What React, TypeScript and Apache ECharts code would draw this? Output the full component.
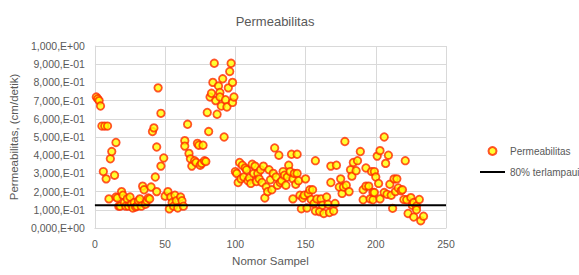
import React, { useEffect, useRef } from "react";
import * as echarts from "echarts";

const sampleNo: number[] = [
  1, 2, 3, 4, 5, 7, 9, 6, 8, 10, 11, 12, 14, 15, 15, 16, 17, 19, 18, 20, 21, 22, 23, 25, 24, 26, 27, 28, 29, 30, 31, 32, 33, 34, 35, 36, 37, 38, 39, 40, 41, 42, 43, 44, 44, 45, 47, 47, 49, 50,
  52, 53, 54, 55, 56, 57, 58, 59, 61, 62, 63, 64, 64, 66, 67, 68, 69, 71, 72, 73, 74, 75, 76, 77, 78, 79, 80, 81, 82, 83, 84, 85, 86, 87, 88, 89, 89, 90, 91, 92, 93, 94, 95, 96, 97, 98, 98, 99,
  100, 101, 102, 103, 104, 105, 106, 107, 108, 109, 110, 111, 112, 113, 114, 115, 116, 117, 118, 119, 120, 121, 122, 123, 124, 125, 126, 127, 128, 129, 130, 131, 132, 133, 134, 135, 136, 137, 138, 139, 140, 141, 141, 142, 143, 144, 144, 145, 146, 147, 148,
  149, 150, 151, 152, 153, 154, 155, 156, 157, 157, 158, 160, 161, 162, 163, 165, 166, 167, 168, 168, 170, 171, 172, 174, 175, 176, 177, 178, 179, 181, 182, 183, 184, 186, 187, 189, 191, 191, 193, 193, 195, 196, 197, 198, 198, 199, 199, 200, 201,
  202, 203, 203, 206, 206, 207, 208, 209, 210, 211, 212, 213, 214, 215, 216, 218, 219, 220, 221, 222, 223, 225, 226, 227, 227, 229, 229, 231, 232, 234,
];

const permeability: number[] = [
  0.72, 0.71, 0.7, 0.67, 0.56, 0.56, 0.56, 0.31, 0.27, 0.16, 0.38, 0.42, 0.29, 0.47, 0.17, 0.165, 0.12, 0.2, 0.12, 0.18, 0.14, 0.12, 0.16, 0.17, 0.12, 0.13, 0.11, 0.14, 0.115, 0.12, 0.15, 0.16, 0.12, 0.23, 0.21, 0.13, 0.15, 0.165, 0.16, 0.225, 0.53, 0.55, 0.28, 0.2, 0.445, 0.77, 0.34, 0.63, 0.385, 0.175,
  0.2, 0.105, 0.17, 0.14, 0.12, 0.18, 0.15, 0.11, 0.17, 0.15, 0.12, 0.48, 0.45, 0.57, 0.41, 0.38, 0.34, 0.37, 0.36, 0.465, 0.455, 0.345, 0.355, 0.455, 0.37, 0.365, 0.635, 0.53, 0.72, 0.74, 0.8, 0.905, 0.7, 0.625, 0.78, 0.745, 0.72, 0.67, 0.82, 0.5, 0.705, 0.665, 0.77, 0.86, 0.905, 0.8, 0.69, 0.72,
  0.31, 0.3, 0.25, 0.36, 0.27, 0.345, 0.28, 0.33, 0.32, 0.26, 0.275, 0.245, 0.35, 0.3, 0.34, 0.255, 0.3, 0.27, 0.32, 0.25, 0.34, 0.165, 0.225, 0.2, 0.32, 0.265, 0.21, 0.3, 0.44, 0.28, 0.235, 0.4, 0.25, 0.26, 0.31, 0.29, 0.235, 0.28, 0.345, 0.31, 0.405, 0.27, 0.16, 0.3, 0.24, 0.405, 0.3, 0.26, 0.18, 0.106, 0.165,
  0.18, 0.27, 0.11, 0.19, 0.21, 0.157, 0.21, 0.135, 0.37, 0.093, 0.16, 0.09, 0.16, 0.125, 0.08, 0.17, 0.13, 0.085, 0.25, 0.34, 0.093, 0.135, 0.345, 0.225, 0.27, 0.19, 0.225, 0.475, 0.235, 0.2, 0.32, 0.285, 0.36, 0.315, 0.37, 0.42, 0.21, 0.155, 0.33, 0.23, 0.23, 0.16, 0.31, 0.195, 0.155, 0.195, 0.31, 0.28, 0.395,
  0.245, 0.425, 0.16, 0.5, 0.195, 0.355, 0.185, 0.4, 0.24, 0.18, 0.108, 0.27, 0.2, 0.27, 0.22, 0.205, 0.21, 0.157, 0.37, 0.155, 0.08, 0.167, 0.125, 0.14, 0.06, 0.12, 0.1, 0.157, 0.04, 0.065,
];

const thresholdX: number[] = [0, 250];
const thresholdY: number[] = [0.125, 0.125];

const FONT = "Liberation Sans";
const GRAY = "#595959";

function fmtY(v: number): string {
  if (v === 0) return "0,000,E+00";
  if (Math.abs(v - 1) < 1e-9) return "1,000,E+00";
  return (v * 10).toFixed(3).replace(".", ",") + ",E-01";
}

export default function App() {
  const ref = useRef<HTMLDivElement>(null);
  useEffect(() => {
    if (!ref.current) return;
    const chart = echarts.init(ref.current, null, { renderer: "svg" });
    const scatterData = sampleNo.map((x, i) => [x, permeability[i]]);
    const lineData = thresholdX.map((x, i) => [x, thresholdY[i]]);
    chart.setOption({
      animation: false,
      backgroundColor: "#ffffff",
      textStyle: { fontFamily: FONT },
      title: {
        text: "Permeabilitas",
        left: 270,
        textAlign: "center",
        top: 10,
        textStyle: { fontFamily: FONT, fontSize: 13, fontWeight: "normal", color: GRAY },
      },
      grid: { left: 94, right: 133, top: 46, bottom: 47, containLabel: false },
      legend: {
        orient: "vertical",
        left: 475,
        top: 141,
        itemWidth: 25,
        itemHeight: 8,
        itemGap: 11,
        symbolKeepAspect: true,
        textStyle: { fontFamily: FONT, fontSize: 10, color: GRAY },
        data: [
          { name: "Permeabilitas", icon: "circle" },
          { name: "80% terlampaui", icon: "path://M0 0H25V2H0Z" },
        ],
      },
      xAxis: {
        type: "value",
        min: 0,
        max: 250,
        interval: 50,
        name: "Nomor Sampel",
        nameLocation: "middle",
        nameGap: 27,
        nameTextStyle: { fontFamily: FONT, fontSize: 11.5, color: GRAY },
        axisLine: { show: true, lineStyle: { color: "#d9d9d9" } },
        axisTick: { show: false },
        axisLabel: { fontFamily: FONT, fontSize: 10.5, color: GRAY, margin: 10 },
        splitLine: { show: true, lineStyle: { color: "#d9d9d9", width: 1 } },
      },
      yAxis: {
        type: "value",
        min: 0,
        max: 1,
        interval: 0.1,
        name: "Permeabilitas, (cm/detik)",
        nameLocation: "middle",
        nameGap: 64,
        nameTextStyle: { fontFamily: FONT, fontSize: 11.5, color: GRAY },
        axisLine: { show: true, lineStyle: { color: "#d9d9d9" } },
        axisTick: { show: false },
        axisLabel: { fontFamily: FONT, fontSize: 10.5, color: GRAY, margin: 10, formatter: fmtY },
        splitLine: { show: true, lineStyle: { color: "#d9d9d9", width: 1 } },
      },
      series: [
        {
          name: "Permeabilitas",
          type: "scatter",
          data: scatterData,
          symbol: "circle",
          symbolSize: 7.5,
          itemStyle: { color: "#FFFF00", borderColor: "#FF2A00", borderWidth: 1.8 },
          z: 3,
        },
        {
          name: "80% terlampaui",
          type: "line",
          data: lineData,
          showSymbol: false,
          symbol: "none",
          lineStyle: { color: "#000000", width: 2 },
          itemStyle: { color: "#000000" },
          z: 4,
        },
      ],
    });
    return () => chart.dispose();
  }, []);
  return <div ref={ref} style={{ width: 579, height: 275, position: "absolute", left: 0, top: 0 }} />;
}
